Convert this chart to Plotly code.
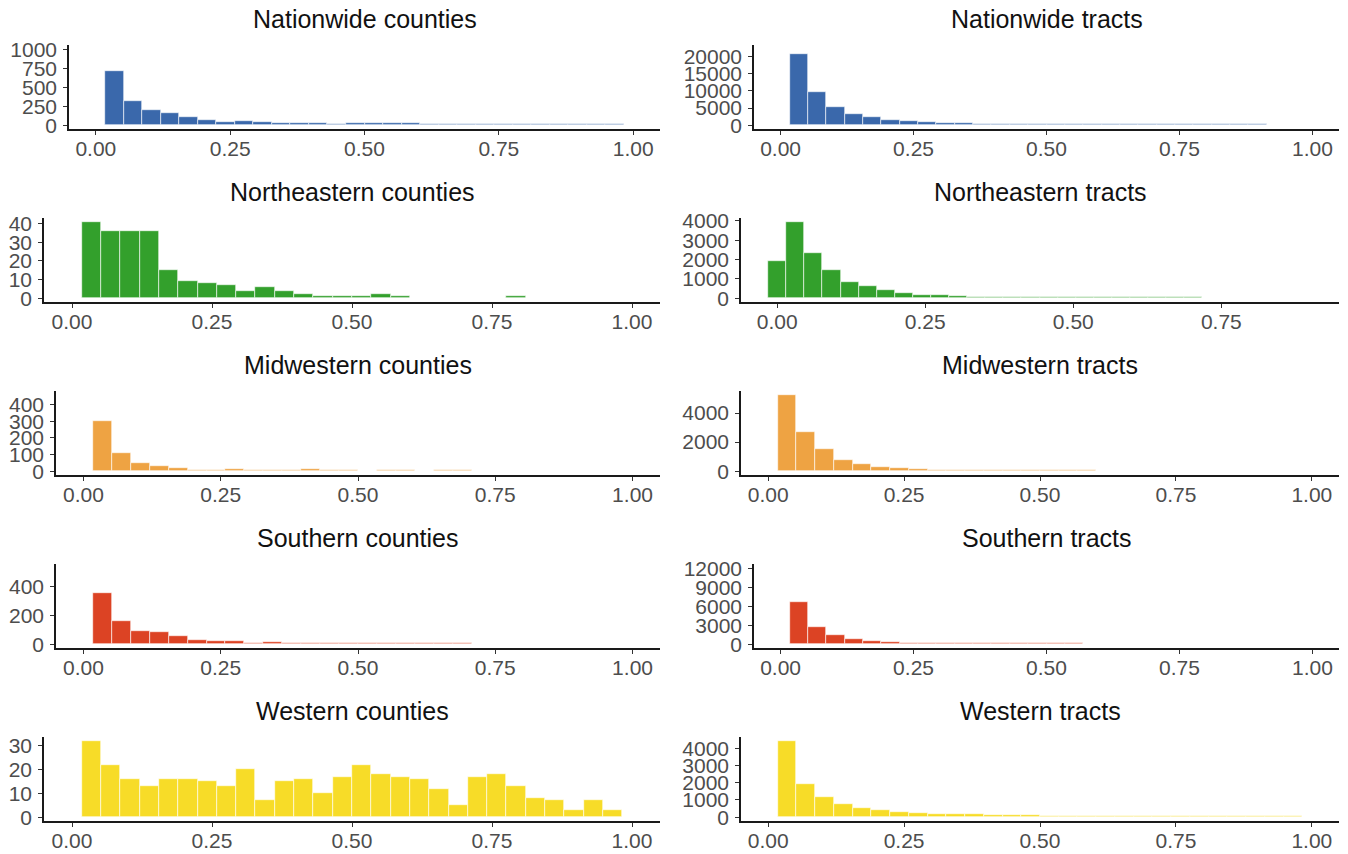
import plotly.graph_objects as go

# ---- histogram counts (30 equal-width bins; panels clipped to [0, 1] drop the two end bins) ----
nation_counties = [710, 323, 199, 160, 103, 65, 48, 57, 42, 35, 32, 28, 22, 25,
                   25, 25, 25, 16, 13, 12, 14, 16, 15, 12, 10, 10, 12, 10]
nation_tracts = [20700, 9800, 5350, 3250, 2250, 1650, 1150, 950, 680, 560, 450,
                 380, 340, 310, 300, 290, 280, 270, 260, 250, 240, 230, 220, 215,
                 210, 205, 200, 200]
ne_counties = [41, 36, 36, 36, 15, 9, 8, 7, 4, 6, 4, 2, 1, 1, 1, 2, 1, 0, 0, 0,
               0, 0, 1, 0, 0, 0, 0, 0]
ne_tracts = [1900, 3950, 2350, 1450, 830, 630, 425, 275, 190, 150, 100, 75, 60,
             55, 50, 47, 45, 43, 41, 40, 39, 38, 37, 36, 35, 0, 0, 0, 0, 0]
mw_counties = [300, 112, 52, 30, 18, 10, 8, 12, 10, 6, 6, 12, 6, 5, 0, 6, 6, 0,
               5, 5, 0, 0, 0, 0, 0, 0, 0, 0]
mw_tracts = [5250, 2700, 1500, 790, 470, 290, 200, 135, 100, 85, 75, 70, 65, 60,
             55, 50, 48, 47, 46, 46, 45, 45, 0, 0, 0, 0, 0, 0]
south_counties = [351, 160, 92, 81, 58, 30, 21, 21, 10, 16, 8, 7, 7, 8, 6, 7, 8,
                  7, 6, 7, 0, 0, 0, 0, 0, 0, 0, 0]
south_tracts = [6650, 2750, 1450, 830, 480, 310, 210, 200, 180, 160, 150, 140,
                130, 125, 120, 115, 110, 110, 108, 106, 105, 0, 0, 0, 0, 0, 0, 0]
west_counties = [32, 22, 16, 13, 16, 16, 15, 13, 20, 7, 15, 16, 10, 17, 22, 18,
                 17, 16, 12, 5, 17, 18, 13, 8, 7, 3, 7, 3]
west_tracts = [4430, 1925, 1170, 755, 550, 415, 320, 265, 200, 180, 160, 150, 115,
               105, 95, 90, 85, 80, 75, 72, 70, 68, 66, 64, 62, 60, 58, 55]

# bin geometry: unit-range panels use width 1/29 starting at bin 1;
# the Northeastern tracts panel spans 0..0.886 and keeps all 30 bins
UNIT_BIN = 1 / 29
NE_TRACT_BIN = 0.886 / 29

titles = ["Nationwide counties", "Nationwide tracts",
          "Northeastern counties", "Northeastern tracts",
          "Midwestern counties", "Midwestern tracts",
          "Southern counties", "Southern tracts",
          "Western counties", "Western tracts"]

BLUE, GREEN, ORANGE, RED, YELLOW = "#3A68AB", "#33A02C", "#EEA343", "#DC4324", "#F7DC28"

unit_ticks = [0, 0.25, 0.5, 0.75, 1.0]

panels = [
    dict(counts=nation_counties, first=1, w=UNIT_BIN, color=BLUE,
         xr=[-0.05, 1.05], xt=unit_ticks, yr=[-50, 1055], yt=[0, 250, 500, 750, 1000]),
    dict(counts=nation_tracts, first=1, w=UNIT_BIN, color=BLUE,
         xr=[-0.05, 1.05], xt=unit_ticks, yr=[-1112, 23362], yt=[0, 5000, 10000, 15000, 20000]),
    dict(counts=ne_counties, first=1, w=UNIT_BIN, color=GREEN,
         xr=[-0.05, 1.05], xt=unit_ticks, yr=[-2.05, 43.05], yt=[0, 10, 20, 30, 40]),
    dict(counts=ne_tracts, first=0, w=NE_TRACT_BIN, color=GREEN,
         xr=[-0.0612, 0.9487], xt=[0, 0.25, 0.5, 0.75], yr=[-197.5, 4147.5], yt=[0, 1000, 2000, 3000, 4000]),
    dict(counts=mw_counties, first=1, w=UNIT_BIN, color=ORANGE,
         xr=[-0.05, 1.05], xt=unit_ticks, yr=[-22.9, 481], yt=[0, 100, 200, 300, 400]),
    dict(counts=mw_tracts, first=1, w=UNIT_BIN, color=ORANGE,
         xr=[-0.05, 1.05], xt=unit_ticks, yr=[-262.5, 5512.5], yt=[0, 2000, 4000]),
    dict(counts=south_counties, first=1, w=UNIT_BIN, color=RED,
         xr=[-0.05, 1.05], xt=unit_ticks, yr=[-26.4, 554.4], yt=[0, 200, 400]),
    dict(counts=south_tracts, first=1, w=UNIT_BIN, color=RED,
         xr=[-0.05, 1.05], xt=unit_ticks, yr=[-608, 12780], yt=[0, 3000, 6000, 9000, 12000]),
    dict(counts=west_counties, first=1, w=UNIT_BIN, color=YELLOW,
         xr=[-0.05, 1.05], xt=unit_ticks, yr=[-1.6, 33.6], yt=[0, 10, 20, 30]),
    dict(counts=west_tracts, first=1, w=UNIT_BIN, color=YELLOW,
         xr=[-0.05, 1.05], xt=unit_ticks, yr=[-221.5, 4651.5], yt=[0, 1000, 2000, 3000, 4000]),
]

W, H = 1348, 854
# panel boxes in pixels: left edge depends on the width of the y tick labels
left_edges = [69, 754, 44, 741, 56, 741, 56, 754, 44, 741]
right_edges = [660, 1339]
row_tops = [45, 218, 391, 564, 737]
PANEL_H = 84

FONT = "Liberation Sans, Arial, Helvetica, sans-serif"

fig = go.Figure()
layout = dict(
    width=W, height=H, margin=dict(l=0, r=0, t=0, b=0, autoexpand=False),
    paper_bgcolor="white", plot_bgcolor="white", showlegend=False,
    bargap=0, annotations=[],
)

for i, p in enumerate(panels):
    row, col = divmod(i, 2)
    n = i + 1
    xa = "x" if n == 1 else f"x{n}"
    ya = "y" if n == 1 else f"y{n}"
    centers = [(p["first"] + j) * p["w"] for j in range(len(p["counts"]))]
    fig.add_trace(go.Bar(
        x=centers, y=p["counts"], width=p["w"],
        marker=dict(color=p["color"], line=dict(color="white", width=0.6)),
        xaxis=xa, yaxis=ya, hoverinfo="x+y",
    ))
    x0, x1 = left_edges[i], right_edges[col]
    top = row_tops[row]
    bottom = top + PANEL_H
    axis_common = dict(
        showline=True, linecolor="#1a1a1a", linewidth=1.5,
        ticks="outside", ticklen=4, tickwidth=1.2, tickcolor="#333333",
        showgrid=False, zeroline=False, automargin=False,
        tickfont=dict(family=FONT, size=21, color="#4D4D4D"),
        fixedrange=True,
    )
    layout["xaxis" if n == 1 else f"xaxis{n}"] = dict(
        axis_common, domain=[x0 / W, x1 / W], range=p["xr"],
        tickvals=p["xt"], ticktext=[f"{v:.2f}" for v in p["xt"]],
        anchor=ya, ticklabelstandoff=-4,
    )
    layout["yaxis" if n == 1 else f"yaxis{n}"] = dict(
        axis_common, domain=[1 - bottom / H, 1 - top / H], range=p["yr"],
        tickvals=p["yt"], ticktext=[str(v) for v in p["yt"]],
        anchor=xa, ticklabelstandoff=2,
    )
    layout["annotations"].append(dict(
        text=titles[i], xref="paper", yref="paper",
        x=(x0 + x1) / 2 / W, y=1 - (top - 26) / H,
        xanchor="center", yanchor="middle", showarrow=False,
        font=dict(family=FONT, size=25, color="#111111"),
    ))

fig.update_layout(**layout)
fig.write_html("out.html")
